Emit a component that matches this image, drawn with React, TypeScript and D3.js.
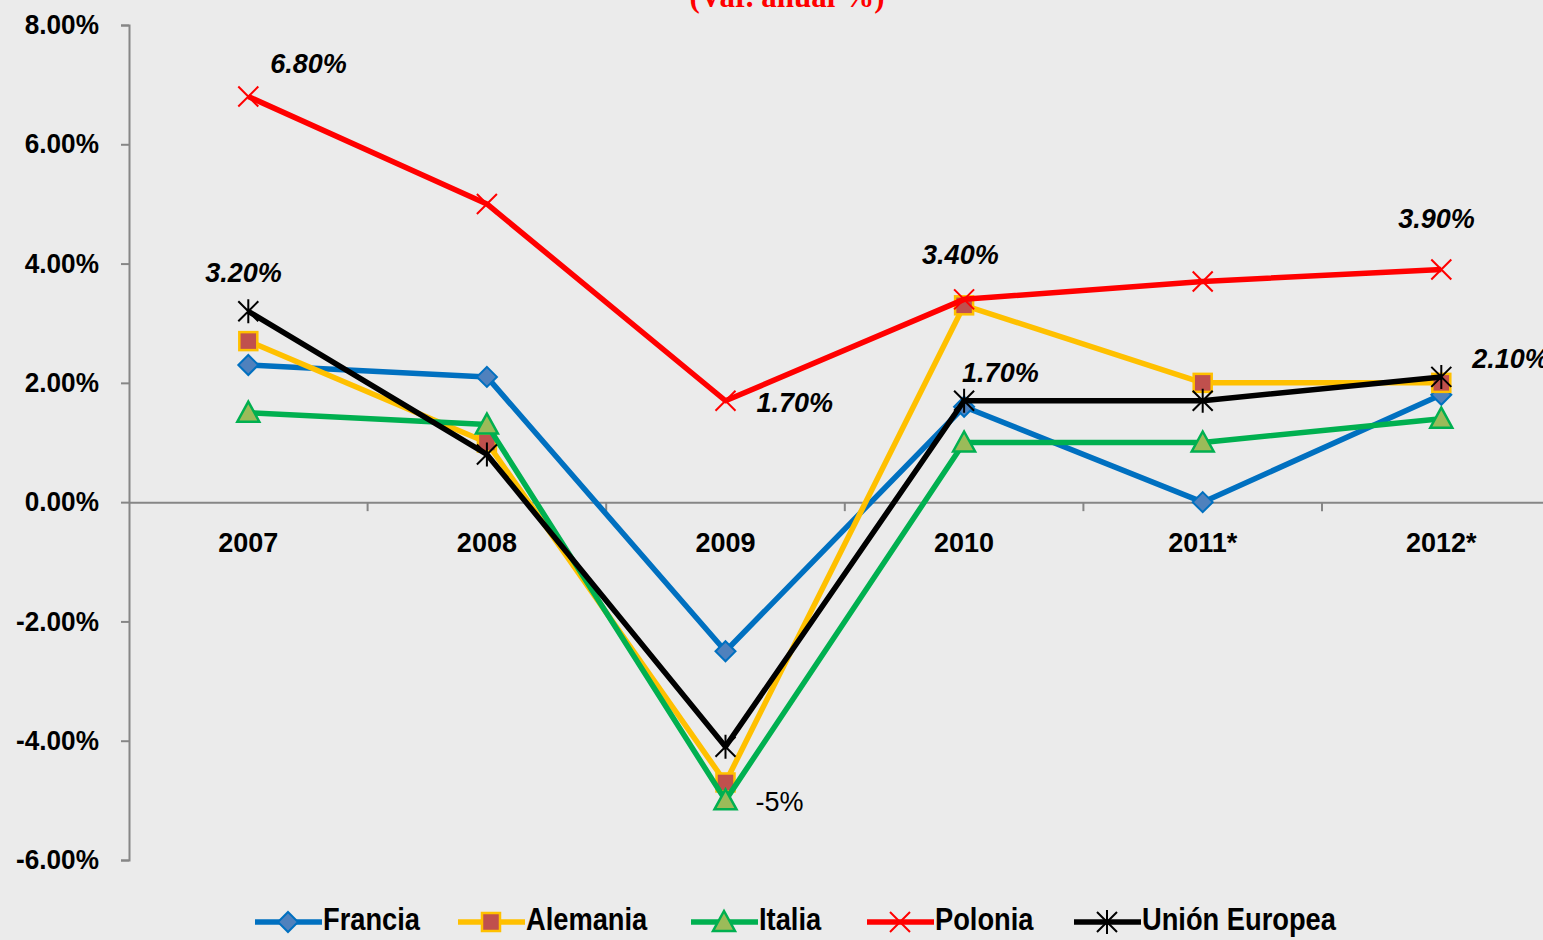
import React, { useEffect, useRef } from "react";
import * as d3 from "d3";

const years = ["2007", "2008", "2009", "2010", "2011*", "2012*"];
const yTicks = [8, 6, 4, 2, 0, -2, -4, -6];

const francia = [2.3, 2.1, -2.5, 1.6, 0.0, 1.8];
const alemania = [2.7, 1.0, -4.7, 3.3, 2.0, 2.0];
const italia = [1.5, 1.3, -5.0, 1.0, 1.0, 1.4];
const polonia = [6.8, 5.0, 1.7, 3.4, 3.7, 3.9];
const unionEuropea = [3.2, 0.8, -4.1, 1.7, 1.7, 2.1];

const seriesNames = ["Francia", "Alemania", "Italia", "Polonia", "Unión Europea"];

// annotations: [category, value, text, dx, dy, italic]
const annotations: [string, number, string, number, number, boolean][] = [
  ["2007", 6.8, "6.80%", 22, -31, true],
  ["2007", 3.2, "3.20%", -43, -36, true],
  ["2009", 1.7, "1.70%", 31, 4, true],
  ["2010", 3.4, "3.40%", -42, -42, true],
  ["2010", 1.7, "1.70%", -2, -26, true],
  ["2012*", 3.9, "3.90%", -43, -49, true],
  ["2012*", 2.1, "2.10%", 31, -16, true],
  ["2009", -5.0, "-5%", 30, 4, false],
];

const W = 1543;
const H = 940;

export default function App() {
  const ref = useRef<SVGSVGElement>(null);

  useEffect(() => {
    document.body.style.margin = "0";
    const svg = d3.select(ref.current);
    svg.selectAll("*").remove();

    const bold = "'Liberation Sans', Arial, sans-serif";

    svg.append("rect").attr("width", W).attr("height", H).attr("fill", "#ebebeb");

    const x = d3.scaleBand().domain(years).range([129, 129 + 6 * 238.6]);
    const y = d3.scaleLinear().domain([-6, 8]).range([860, 25]);
    const cx = (c: string) => (x(c) as number) + x.bandwidth() / 2;

    // title (cut off at top)
    svg.append("text")
      .attr("x", 787).attr("y", 7)
      .attr("text-anchor", "middle")
      .attr("font-family", "'Liberation Serif', 'Times New Roman', serif")
      .attr("font-weight", "bold")
      .attr("font-size", 31)
      .attr("fill", "#ff0000")
      .text("(Var. anual %)");

    // y axis
    const ya = svg.append("g").attr("transform", "translate(129,0)")
      .call(d3.axisLeft(y).tickValues(yTicks).tickSize(8).tickPadding(30)
        .tickFormat(d => d3.format(".2f")(d as number).replace("−", "-") + "%"));
    ya.select(".domain").attr("stroke", "#868686").attr("stroke-width", 2);
    ya.selectAll(".tick line").attr("stroke", "#868686").attr("stroke-width", 2);
    ya.selectAll(".tick text")
      .attr("font-family", bold).attr("font-weight", "bold")
      .attr("font-size", 27).attr("fill", "#000")
      .attr("transform", "scale(0.97,1)")
      .attr("x", -31);

    // x axis at zero
    const xa = svg.append("g").attr("transform", `translate(0,${y(0)})`)
      .call(d3.axisBottom(x).tickSize(0).tickPadding(50));
    xa.select(".domain").attr("stroke", "#868686").attr("stroke-width", 2);
    xa.selectAll(".tick text")
      .attr("font-family", bold).attr("font-weight", "bold")
      .attr("font-size", 27).attr("fill", "#000").attr("dy", "0");
    const bounds = d3.range(1, 7).map(i => 129 + i * x.bandwidth());
    xa.selectAll(".sep").data(bounds).enter().append("line")
      .attr("x1", d => d).attr("x2", d => d).attr("y1", 0).attr("y2", 9)
      .attr("stroke", "#868686").attr("stroke-width", 2);

    const seriesData = [francia, alemania, italia, polonia, unionEuropea];
    const lineColors = ["#0070c0", "#ffc000", "#00b050", "#ff0000", "#000000"];
    const fills = ["#4f81bd", "#c0504d", "#9bbb59", "none", "none"];

    const drawMarker = (g: d3.Selection<SVGGElement, unknown, null, undefined>, i: number) => {
      if (i === 0) {
        g.append("path").attr("d", "M0,-10L10,0L0,10L-10,0Z")
          .attr("fill", fills[0]).attr("stroke", lineColors[0]).attr("stroke-width", 2);
      } else if (i === 1) {
        g.append("rect").attr("x", -9).attr("y", -9).attr("width", 18).attr("height", 18)
          .attr("fill", fills[1]).attr("stroke", lineColors[1]).attr("stroke-width", 2.5);
      } else if (i === 2) {
        g.append("path").attr("d", "M0,-11L11,9L-11,9Z")
          .attr("fill", fills[2]).attr("stroke", lineColors[2]).attr("stroke-width", 2.5);
      } else if (i === 3) {
        g.append("path").attr("d", "M-10,-10L10,10M-10,10L10,-10")
          .attr("stroke", lineColors[3]).attr("stroke-width", 2).attr("fill", "none");
      } else {
        g.append("path").attr("d", "M-10,-10L10,10M-10,10L10,-10M0,-12L0,12")
          .attr("stroke", "#000").attr("stroke-width", 2).attr("fill", "none");
      }
    };

    const line = d3.line<number>()
      .x((_, j) => cx(years[j]))
      .y(d => y(d));

    seriesData.forEach((vals, i) => {
      svg.append("path").datum(vals)
        .attr("d", line)
        .attr("fill", "none")
        .attr("stroke", lineColors[i])
        .attr("stroke-width", 5.5)
        .attr("stroke-linejoin", "round");
      vals.forEach((v, j) => {
        const g = svg.append("g").attr("transform", `translate(${cx(years[j])},${y(v)})`);
        drawMarker(g, i);
      });
    });

    // data labels
    annotations.forEach(([c, v, t, dx, dy, it]) => {
      svg.append("text")
        .attr("x", cx(c) + dx).attr("y", y(v) + dy)
        .attr("dominant-baseline", "middle")
        .attr("font-family", bold)
        .attr("font-weight", it ? "bold" : "normal")
        .attr("font-style", it ? "italic" : "normal")
        .attr("font-size", 27)
        .attr("fill", "#000")
        .text(t);
    });

    // legend
    const legendX = [255, 458, 691, 867, 1074];
    const sx = 0.88;
    seriesNames.forEach((name, i) => {
      const g = svg.append("g").attr("transform", `translate(${legendX[i]},922)`);
      g.append("line").attr("x1", 0).attr("x2", 67).attr("y1", 0).attr("y2", 0)
        .attr("stroke", lineColors[i]).attr("stroke-width", 5.5);
      const m = g.append("g").attr("transform", "translate(33,0)");
      drawMarker(m, i);
      g.append("text").attr("x", 68 / sx).attr("y", 0)
        .attr("transform", `scale(${sx},1)`)
        .attr("dominant-baseline", "middle")
        .attr("font-family", bold).attr("font-weight", "bold")
        .attr("font-size", 31).attr("fill", "#000")
        .text(name);
    });
  }, []);

  return <svg ref={ref} width={W} height={H} style={{ display: "block" }} />;
}
